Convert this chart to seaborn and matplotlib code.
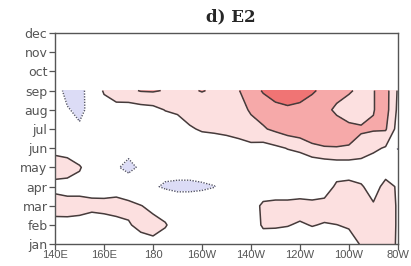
import numpy as np
import matplotlib
matplotlib.use("Agg")
from matplotlib import pyplot as plt
import seaborn as sns

# longitude grid (deg east), 140E .. 80W
LONS = [140, 145, 150, 155, 160, 165, 170, 175, 180, 185, 190, 195, 200, 205, 210,
        215, 220, 225, 230, 235, 240, 245, 250, 255, 260, 265, 270, 275, 280]
MONTHS = ['jan', 'feb', 'mar', 'apr', 'may', 'jun', 'jul', 'aug', 'sep', 'oct', 'nov', 'dec']
X_TICKS = [140, 160, 180, 200, 220, 240, 260, 280]
X_LABELS = ['140E', '160E', '180', '160W', '140W', '120W', '100W', '80W']

# anomaly, one row per month (jan..sep)
anom_jan = [0.10, 0.10, 0.10, 0.10, 0.10, 0.10, 0.15, 0.25, 0.35, 0.20, 0.10, 0.00, 0.00, 0.00, 0.00,
            0.05, 0.10, 0.20, 0.25, 0.25, 0.25, 0.25, 0.25, 0.25, 0.20, 0.55, 0.70, 0.70, 0.45]
anom_feb = [0.30, 0.35, 0.30, 0.10, 0.15, 0.30, 0.45, 0.65, 0.70, 0.55, 0.20, 0.00, 0.00, 0.00, 0.05,
            0.10, 0.20, 0.57, 0.55, 0.52, 0.45, 0.52, 0.47, 0.49, 0.58, 0.80, 0.80, 0.75, 0.45]
anom_mar = [0.75, 0.70, 0.70, 0.70, 0.75, 0.75, 0.65, 0.52, 0.35, 0.20, -0.10, -0.10, -0.10, -0.05, 0.00,
            0.10, 0.25, 0.60, 0.65, 0.65, 0.70, 0.65, 0.70, 0.95, 0.80, 0.70, 0.55, 0.75, 0.45]
anom_apr = [0.35, 0.30, 0.30, 0.20, 0.10, 0.20, 0.10, -0.10, -0.40, -0.60, -0.65, -0.65, -0.60, -0.52, -0.20,
            0.00, 0.10, 0.15, 0.15, 0.15, 0.15, 0.15, 0.20, 0.60, 0.65, 0.55, 0.30, 0.65, 0.45]
anom_may = [0.75, 0.75, 0.55, 0.20, 0.00, -0.40, -0.75, -0.35, -0.20, -0.20, -0.20, -0.20, -0.15, -0.10, 0.00,
            0.05, 0.10, 0.10, 0.15, 0.15, 0.15, 0.10, 0.15, 0.20, 0.20, 0.20, 0.20, 0.25, 0.10]
anom_jun = [0.35, 0.25, 0.10, 0.00, 0.00, -0.10, -0.20, -0.10, 0.00, 0.00, 0.05, 0.10, 0.20, 0.15, 0.20,
            0.25, 0.35, 0.30, 0.40, 0.52, 0.60, 0.85, 0.95, 0.98, 0.98, 0.85, 0.60, 0.45, -0.55]
anom_jul = [0.10, -0.20, -0.40, -0.10, 0.00, 0.00, 0.05, 0.10, 0.10, 0.15, 0.20, 0.45, 0.55, 0.60, 0.65,
            0.75, 0.85, 0.95, 1.10, 1.25, 1.35, 1.45, 1.45, 1.25, 1.10, 1.05, 1.05, 1.05, 0.30]
anom_aug = [0.00, -0.45, -0.65, -0.30, 0.10, 0.30, 0.25, 0.30, 0.35, 0.52, 0.60, 0.70, 0.75, 0.75, 0.80,
            0.85, 1.05, 1.20, 1.30, 1.40, 1.35, 1.30, 1.15, 0.90, 0.80, 0.80, 0.98, 1.20, 0.40]
anom_sep = [-0.20, -0.70, -0.70, -0.20, 0.60, 0.80, 0.90, 1.03, 1.05, 0.97, 0.90, 0.95, 1.02, 0.95, 0.92,
            0.98, 1.25, 1.55, 1.80, 1.85, 1.75, 1.55, 1.40, 1.20, 1.05, 0.90, 0.98, 1.20, 0.45]

LEVELS = [-3.0, -0.5, 0.5, 1.0, 1.5, 3.0]
FILL_COLORS = ['#dcdcf6', '#ffffff', '#fce0e0', '#f6a9a9', '#f07474']


def plot_panel(field):
    sns.set_theme(style="ticks")
    plt.rcParams['font.family'] = ['DejaVu Sans']

    fig, ax = plt.subplots(figsize=(4.11, 2.66), dpi=100)
    fig.subplots_adjust(left=0.134, right=0.968, top=0.876, bottom=0.082)

    month_idx = np.arange(field.shape[0])
    ax.contourf(LONS, month_idx, field, levels=LEVELS, colors=FILL_COLORS)
    ax.contour(LONS, month_idx, field, levels=[-0.5], colors='#55556a',
               linestyles=[(0, (1, 1))], linewidths=1.0)
    ax.contour(LONS, month_idx, field, levels=[0.5, 1.0, 1.5], colors='#463b3b',
               linestyles='solid', linewidths=1.1)

    ax.set_xlim(140, 280)
    ax.set_ylim(0, 11)
    ax.set_xticks(X_TICKS)
    ax.set_xticklabels(X_LABELS, fontsize=8, family='Liberation Sans')
    ax.set_yticks(range(len(MONTHS)))
    ax.set_yticklabels(MONTHS, fontsize=9)
    ax.tick_params(axis='both', direction='out', length=4, width=0.9,
                   color='#555555', labelcolor='#555555', pad=1.5)
    ax.tick_params(axis='x', pad=0.5)
    for side in ['top', 'bottom', 'left', 'right']:
        ax.spines[side].set_visible(True)
        ax.spines[side].set_color('#555555')
        ax.spines[side].set_linewidth(1.0)

    fig.text(0.562, 0.935, 'd) E2', ha='center', va='center', fontsize=12,
             fontweight='bold', family='DejaVu Serif')

    fig.savefig('out.png', dpi=100)


def main():
    field = np.array([anom_jan, anom_feb, anom_mar, anom_apr, anom_may,
                      anom_jun, anom_jul, anom_aug, anom_sep])
    plot_panel(field)


if __name__ == "__main__":
    main()
